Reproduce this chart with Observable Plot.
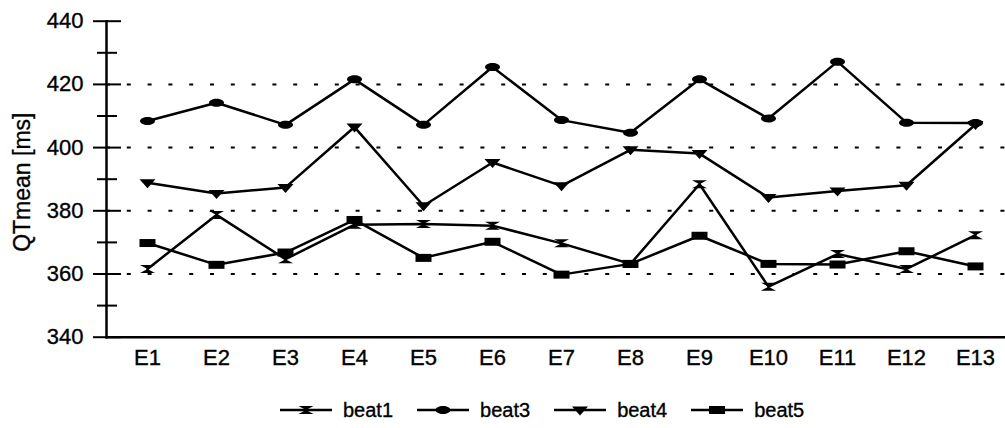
<!DOCTYPE html>
<html><head><meta charset="utf-8">
<script src="https://cdn.jsdelivr.net/npm/d3@7"></script>
<script src="https://cdn.jsdelivr.net/npm/@observablehq/plot@0.6"></script>
<style>
body{margin:0;background:#fff;font-family:"Liberation Sans",Arial,sans-serif;}
#chart svg text{stroke:#000;stroke-width:0.35px}
#chart svg g[aria-label$="tick label"], #chart svg g[aria-label$="tick label"] text{font-size:22px !important}
#legend{display:flex;align-items:center;height:60px;padding-left:280px;font-size:20px;color:#000;-webkit-text-stroke:0.35px #000}
.item{display:flex;align-items:center;margin-right:24px}
.item svg{margin-right:11px;display:block}
</style></head><body><div id="chart"></div><div id="legend"></div>
<script>
const categories = ["E1","E2","E3","E4","E5","E6","E7","E8","E9","E10","E11","E12","E13"];
const seriesNames = ["beat1","beat3","beat4","beat5"];
const beat1 = [361.6, 378.7, 364.7, 375.6, 375.8, 375.3, 369.7, 363.2, 388.4, 356.0, 366.3, 361.6, 372.3];
const beat3 = [408.4, 414.2, 407.2, 421.6, 407.2, 425.5, 408.7, 404.7, 421.6, 409.2, 427.2, 407.9, 407.8];
const beat4 = [388.9, 385.5, 387.4, 406.5, 381.6, 395.3, 387.9, 399.3, 398.1, 384.2, 386.3, 388.1, 407.3];
const beat5 = [369.8, 362.9, 366.8, 377.1, 365.1, 370.2, 359.8, 363.2, 372.1, 363.2, 363.0, 367.2, 362.4];
const majorTicks = [340, 360, 380, 400, 420, 440];
const minorTicks = [350, 370, 390, 410, 430];
const gridTicks = [360, 380, 400, 420];
const yLabel = "QTmean [ms]";

const values = {beat1, beat3, beat4, beat5};

const symbols = {
  beat1: {draw(ctx) { const w = 7.5, h = 4; ctx.moveTo(-w, -h); ctx.lineTo(w, -h); ctx.lineTo(0, 0); ctx.lineTo(w, h); ctx.lineTo(-w, h); ctx.lineTo(0, 0); ctx.closePath(); }},
  beat3: {draw(ctx) { const rx = 7.5, ry = 4; const k = 0.5523; ctx.moveTo(rx, 0);
    ctx.bezierCurveTo(rx, ry*k, rx*k, ry, 0, ry); ctx.bezierCurveTo(-rx*k, ry, -rx, ry*k, -rx, 0);
    ctx.bezierCurveTo(-rx, -ry*k, -rx*k, -ry, 0, -ry); ctx.bezierCurveTo(rx*k, -ry, rx, -ry*k, rx, 0); ctx.closePath(); }},
  beat4: {draw(ctx) { const w = 8, h = 4.5; ctx.moveTo(-w, -h + 1); ctx.lineTo(w, -h + 1); ctx.lineTo(0, h + 1); ctx.closePath(); }},
  beat5: {draw(ctx) { const w = 8, h = 4; ctx.rect(-w, -h, 2*w, 2*h); }}
};

const data = [];
seriesNames.forEach(s => values[s].forEach((v, j) => data.push({series: s, cat: categories[j], value: v})));

const font = '"Liberation Sans", Arial, sans-serif';
const chart = Plot.plot({
  width: 1005, height: 380,
  marginLeft: 106, marginRight: 0, marginTop: 20.7, marginBottom: 43.3,
  style: {fontFamily: font, fontSize: "22px", color: "#000", background: "#fff"},
  x: {type: "point", domain: categories, range: [142.7, 980], padding: 0, label: null},
  y: {domain: [340, 440], range: [336.7, 20.7], label: null},
  marks: [
    Plot.gridY(gridTicks, {stroke: "#000", strokeOpacity: 1, strokeWidth: 2, strokeDasharray: "4,16.8"}),
    Plot.axisY(majorTicks, {tickSize: 28, insetLeft: 15, tickPadding: 10, strokeWidth: 2, fontSize: 22, label: null}),
    Plot.axisY(minorTicks, {tickSize: 20, insetLeft: 11, strokeWidth: 2, tickFormat: () => "", label: null}),
    Plot.axisX({tickSize: 0, tickPadding: 12, fontSize: 22, label: null}),
    Plot.frame({anchor: "left", strokeWidth: 2.5}),
    Plot.frame({anchor: "bottom", strokeWidth: 2.5}),
    Plot.text([yLabel], {text: d => d, frameAnchor: "left", textAnchor: "middle", rotate: -90, dx: -84, dy: 3, fontSize: 23}),
    Plot.line(data, {x: "cat", y: "value", z: "series", stroke: "#000", strokeWidth: 2.5}),
    ...seriesNames.map(s => Plot.dot(data.filter(d => d.series === s), {x: "cat", y: "value", symbol: symbols[s], fill: "#000", stroke: "none", r: 5}))
  ]
});
document.getElementById("chart").append(chart);

const legend = d3.select("#legend");
seriesNames.forEach(s => {
  const item = legend.append("div").attr("class", "item");
  const svg = item.append("svg").attr("width", 52).attr("height", 16);
  svg.append("line").attr("x1", 0).attr("x2", 52).attr("y1", 8).attr("y2", 8).attr("stroke", "#000").attr("stroke-width", 2.5);
  svg.append("path").attr("transform", "translate(26,8)").attr("d", d3.symbol(symbols[s])()).attr("fill", "#000");
  item.append("span").text(s);
});
</script>
</body></html>
